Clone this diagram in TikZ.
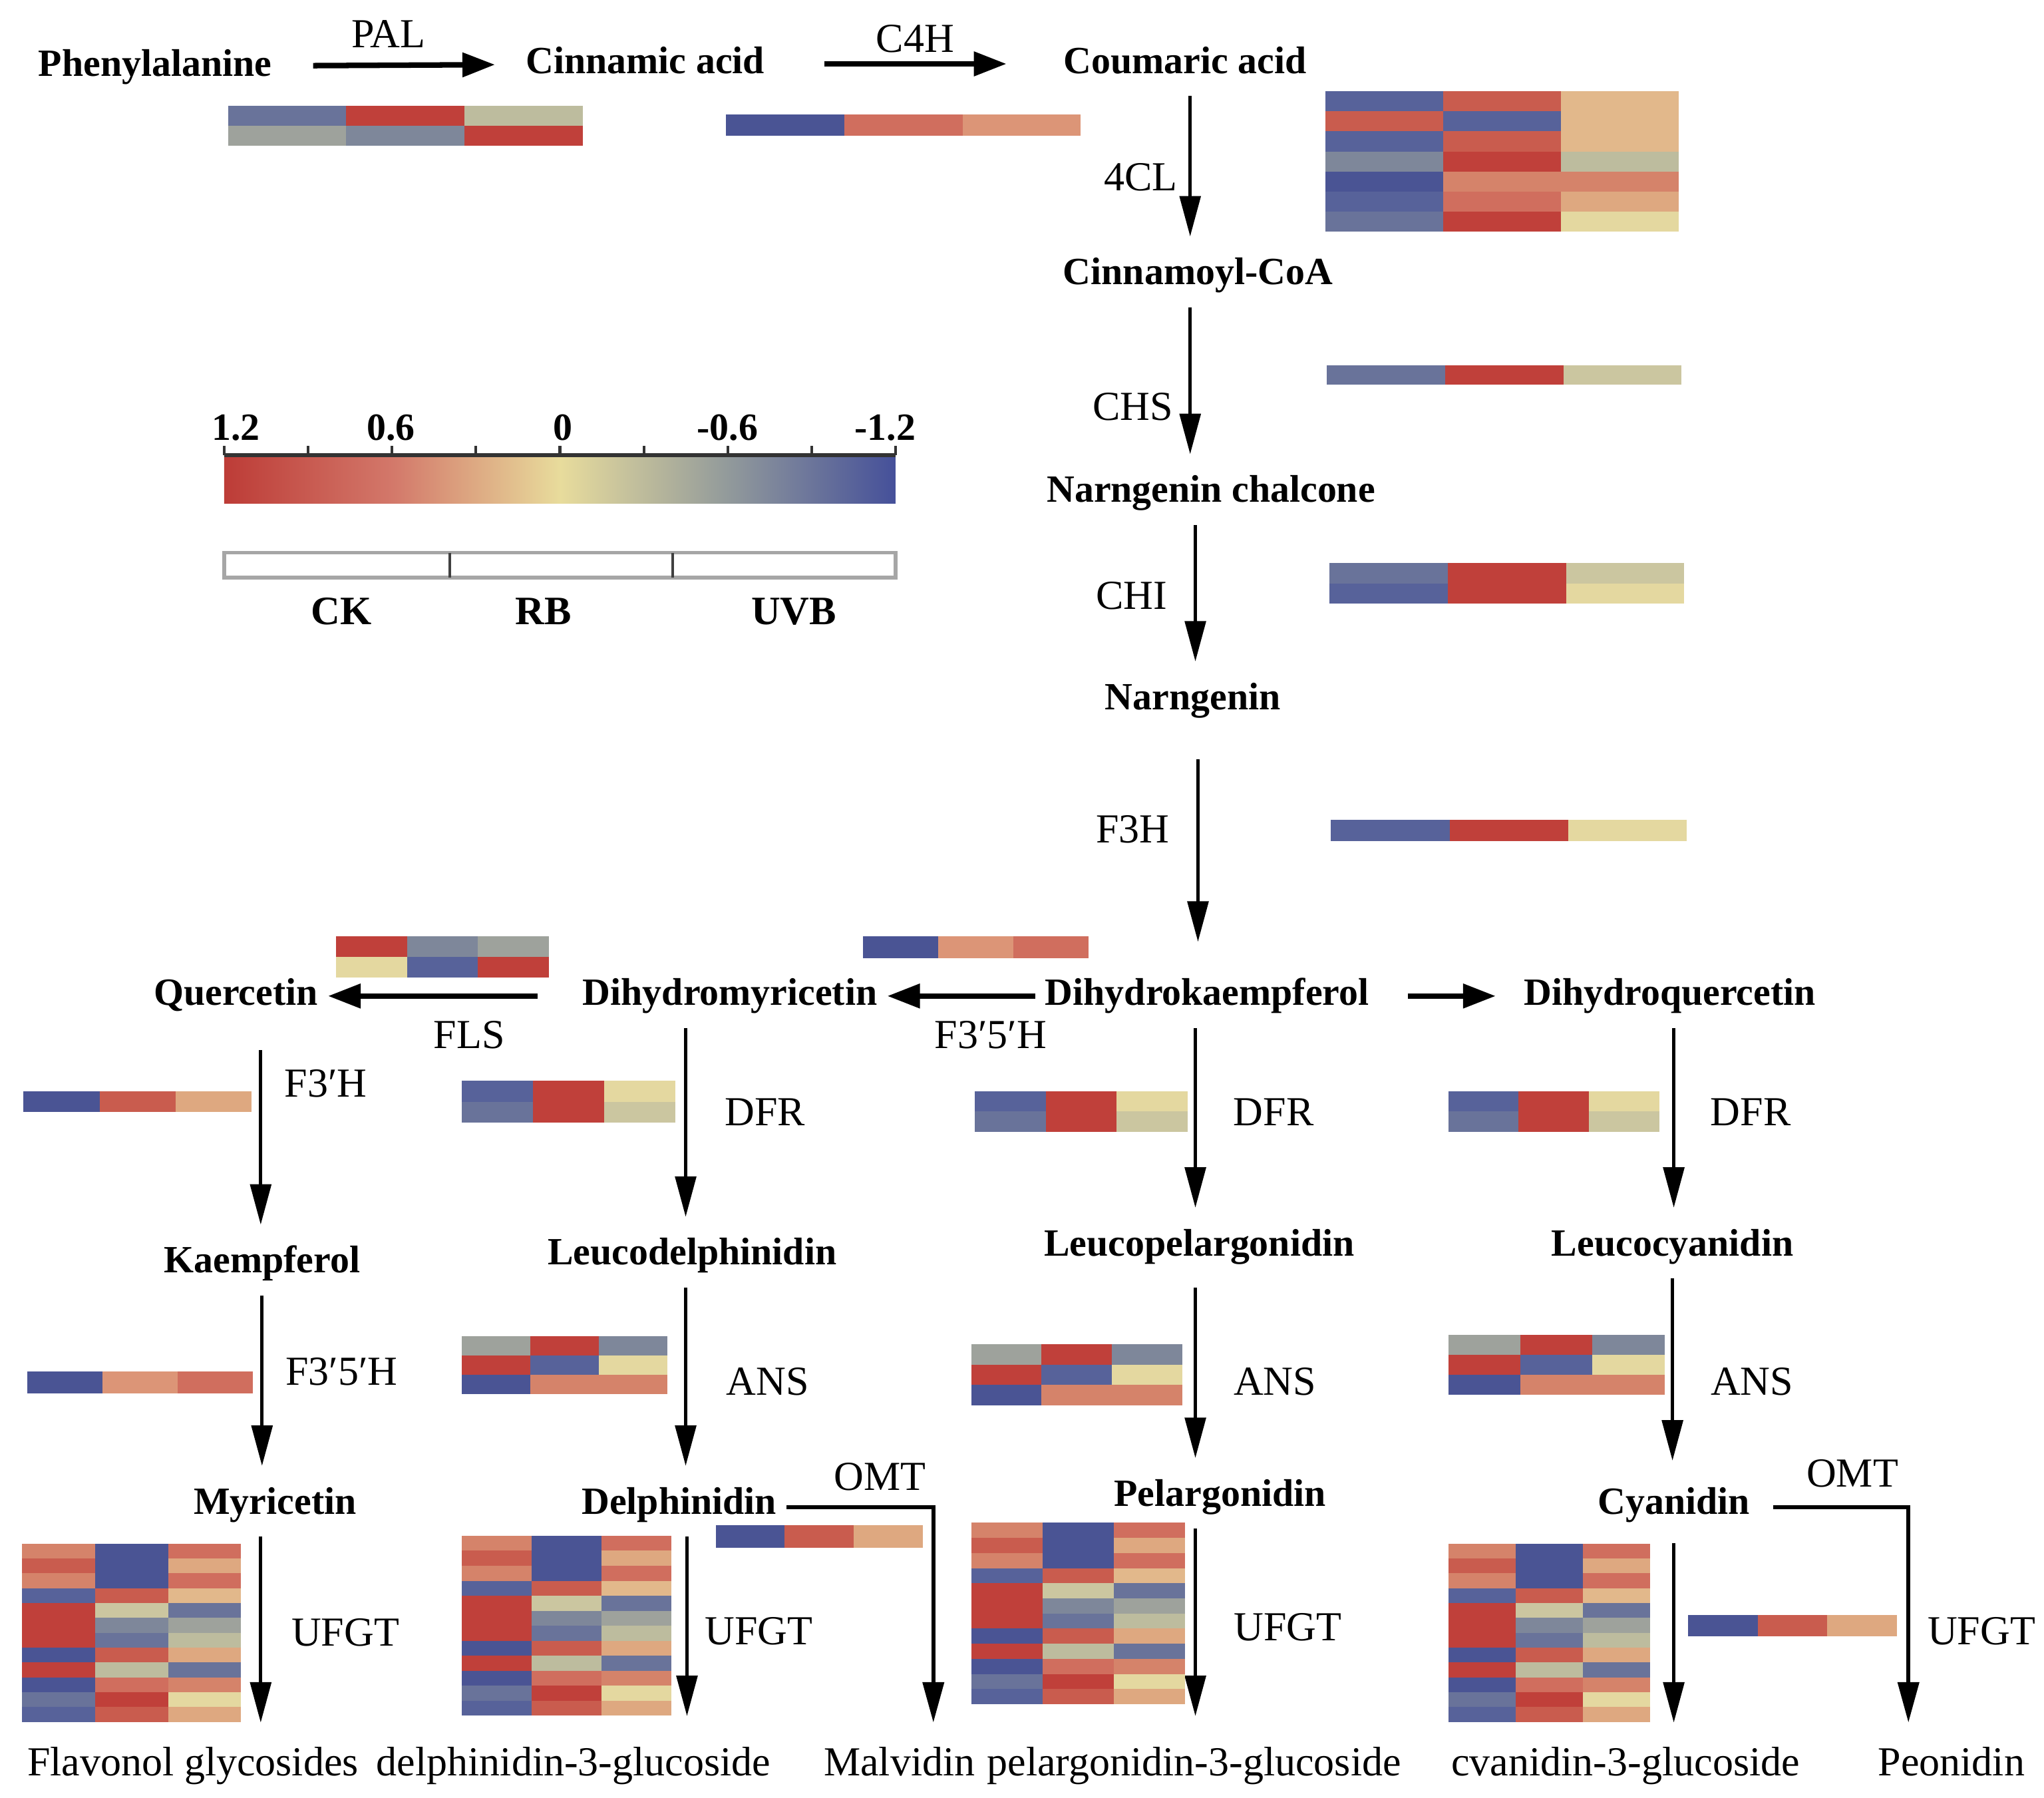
\documentclass[tikz,border=0pt]{standalone}
\usepackage{fontspec}
\setmainfont{Liberation Serif}
\usetikzlibrary{arrows.meta}

% heat map colours, low (blue) to high (red)
\definecolor{hb1}{HTML}{4A5494}
\definecolor{hb2}{HTML}{57629A}
\definecolor{hb3}{HTML}{69739A}
\definecolor{hb4}{HTML}{7E879A}
\definecolor{hg}{HTML}{9EA29C}
\definecolor{hk}{HTML}{BDBC9E}
\definecolor{hk2}{HTML}{CBC6A0}
\definecolor{hy}{HTML}{E4D8A0}
\definecolor{ht2}{HTML}{E2B88B}
\definecolor{ht}{HTML}{DEA880}
\definecolor{hs2}{HTML}{DC9577}
\definecolor{hs}{HTML}{D5836A}
\definecolor{hr3}{HTML}{D06E5E}
\definecolor{hr2}{HTML}{C95C4E}
\definecolor{hr}{HTML}{C0403A}
% legend bar
\definecolor{lgRed}{HTML}{BD3C37}
\definecolor{lgSal}{HTML}{D3786A}
\definecolor{lgYel}{HTML}{E8DC9C}
\definecolor{lgGry}{HTML}{929A9B}
\definecolor{lgBlu}{HTML}{45509A}

% rows of the repeated maps
\newcommand{\dfrrows}{hb2/hr/hy, hb3/hr/hk2}
\newcommand{\ansrows}{hg/hr/hb4, hr/hb2/hy, hb1/hs/hs}
\newcommand{\ufgtrows}{hs/hb1/hr3, hr2/hb1/ht, hs/hb1/hr3, hb2/hr2/ht2,
	hr/hk2/hb3, hr/hb4/hg, hr/hb3/hk, hb1/hr2/ht,
	hr/hk/hb3, hb1/hr3/hs, hb3/hr/hy, hb2/hr2/ht}

% left, top, width, row height, rows (three cells each)
\newcommand{\hmap}[5]{%
	\edef\hmaprows{#5}%
	\foreach \ka/\kb/\kc [count=\rw from 0] in \hmaprows {
		\fill[\ka] ({#1}, {#2+\rw*#4}) rectangle ++({#3/3}, {#4});
		\fill[\kb] ({#1+#3/3}, {#2+\rw*#4}) rectangle ++({#3/3}, {#4});
		\fill[\kc] ({#1+2*#3/3}, {#2+\rw*#4}) rectangle ++({#3/3}, {#4});
	}}

\begin{document}
\begin{tikzpicture}[x=0.01cm, y=-0.01cm,
	cpd/.style={font=\fontsize{8.4pt}{10pt}\selectfont\bfseries,
		inner sep=2pt, text height=6pt, text depth=1.9pt},
	prod/.style={font=\fontsize{9pt}{11pt}\selectfont,
		inner sep=2pt, text height=6.5pt, text depth=2pt},
	enz/.style={font=\fontsize{9pt}{11pt}\selectfont, inner sep=1pt},
	legnum/.style={font=\fontsize{8.4pt}{10pt}\selectfont\bfseries, inner sep=1pt},
	vflow/.style={-{Triangle[length=0.31cm, width=0.16cm]}, line width=0.7pt,
		shorten <=0.03cm, shorten >=0.08cm},
	hflow/.style={-{Triangle[length=0.25cm, width=0.18cm]}, line width=1.2pt},
	omt/.style={vflow, line width=0.9pt, shorten <=0.1cm, shorten >=0.1cm},
]
	\useasboundingbox (0,0) rectangle (1568,1379);

	% compounds
	\node[cpd] (phe) at (119,51) {Phenylalanine};
	\node[cpd] (cin) at (495,49) {Cinnamic acid};
	\node[cpd] (cou) at (909,49) {Coumaric acid};
	\node[cpd] (cyc) at (919,211) {Cinnamoyl-CoA};
	\node[cpd] (chal) at (929,378) {Narngenin chalcone};
	\node[cpd] (nar) at (915,537) {Narngenin};
	\node[cpd] (quer) at (181,764) {Quercetin};
	\node[cpd] (dhm) at (560,764) {Dihydromyricetin};
	\node[cpd] (dhk) at (926,764) {Dihydrokaempferol};
	\node[cpd] (dhq) at (1281,764) {Dihydroquercetin};
	\node[cpd] (kae) at (201,969) {Kaempferol};
	\node[cpd] (ldel) at (531,963) {Leucodelphinidin};
	\node[cpd] (lpel) at (920,956) {Leucopelargonidin};
	\node[cpd] (lcy) at (1283,956) {Leucocyanidin};
	\node[cpd] (myr) at (211,1154) {Myricetin};
	\node[cpd] (delp) at (521,1154) {Delphinidin};
	\node[cpd] (pel) at (936,1148) {Pelargonidin};
	\node[cpd] (cyan) at (1284,1154) {Cyanidin};

	\node[prod] (flav) at (148,1354) {Flavonol glycosides};
	\node[prod] (d3g) at (440,1354) {delphinidin-3-glucoside};
	\node[prod] (malv) at (690,1354) {Malvidin};
	\node[prod] (p3g) at (916,1354) {pelargonidin-3-glucoside};
	\node[prod] (c3g) at (1247,1354) {cvanidin-3-glucoside};
	\node[prod] (peo) at (1497,1354) {Peonidin};

	% horizontal steps
	\draw[hflow, shorten <=0.24cm, shorten >=0.16cm] (phe) -- (cin);
	\draw[hflow, shorten <=0.38cm, shorten >=0.36cm] (cin) -- (cou);
	\draw[hflow, shorten <=0.27cm] (dhm) -- (quer);
	\draw[hflow] (dhk) -- (dhm);
	\draw[hflow, shorten <=0.22cm, shorten >=0.14cm] (dhk) -- (dhq);

	% vertical steps
	\draw[vflow] (cou.south -| 913,0) -- (cyc.north -| 913,0);
	\draw[vflow] (cyc.south -| 913,0) -- (chal.north -| 913,0);
	\draw[vflow] (chal.south -| 917,0) -- (nar.north -| 917,0);
	\draw[vflow, shorten <=0.24cm, shorten >=0.2cm] (nar.south -| 919,0) -- (dhk.north -| 919,0);

	\draw[vflow, shorten <=0.2cm] (quer.south -| 200,0) -- (kae.north -| 200,0);
	\draw[vflow] (kae.south -| 201,0) -- (myr.north -| 201,0);
	\draw[vflow, shorten >=0.1cm] (myr.south -| 200,0) -- (flav.north -| 200,0);

	\draw[vflow] (dhm.south -| 526,0) -- (ldel.north -| 526,0);
	\draw[vflow] (ldel.south -| 526,0) -- (delp.north -| 526,0);
	\draw[vflow, shorten >=0.15cm] (delp.south -| 527,0) -- (d3g.north -| 527,0);

	\draw[vflow] (dhk.south -| 917,0) -- (lpel.north -| 917,0);
	\draw[vflow, shorten <=0.1cm] (lpel.south -| 917,0) -- (pel.north -| 917,0);
	\draw[vflow, shorten >=0.15cm] (pel.south -| 917,0) -- (p3g.north -| 917,0);

	\draw[vflow] (dhq.south -| 1284,0) -- (lcy.north -| 1284,0);
	\draw[vflow, shorten >=0.12cm] (lcy.south -| 1283,0) -- (cyan.north -| 1283,0);
	\draw[vflow, shorten <=0.08cm, shorten >=0.1cm] (cyan.south -| 1284,0) -- (c3g.north -| 1284,0);

	% OMT side branches
	\coordinate (omtA) at (716,1156);
	\coordinate (omtB) at (1464,1156);
	\draw[omt, shorten <=0cm] (delp.east |- omtA) -- (omtA) -- (malv.north -| omtA);
	\draw[omt] (cyan.east |- omtB) -- (omtB) -- (peo.north -| omtB);

	% enzymes
	\node[enz] (pal) at (298,26) {PAL};
	\node[enz] (c4h) at (702,30) {C4H};
	\node[enz] (fcl) at (875,136) {4CL};
	\node[enz] (chs) at (869,312) {CHS};
	\node[enz] (chi) at (868,457) {CHI};
	\node[enz] (fth) at (869,636) {F3H};
	\node[enz] (fls) at (360,794) {FLS};
	\node[enz] (ffa) at (760,794) {F3′5′H};
	\node[enz] (fpa) at (250,831) {F3′H};
	\node[enz] (ffb) at (262,1052) {F3′5′H};
	\node[enz] (dfra) at (587,853) {DFR};
	\node[enz] (dfrb) at (977,853) {DFR};
	\node[enz] (dfrc) at (1343,853) {DFR};
	\node[enz] (ansa) at (589,1060) {ANS};
	\node[enz] (ansb) at (978,1060) {ANS};
	\node[enz] (ansc) at (1344,1060) {ANS};
	\node[enz] (omta) at (675,1133) {OMT};
	\node[enz] (omtb) at (1421,1130) {OMT};
	\node[enz] (ufa) at (265,1252) {UFGT};
	\node[enz] (ufb) at (582,1251) {UFGT};
	\node[enz] (ufc) at (988,1248) {UFGT};
	\node[enz] (ufd) at (1520,1251) {UFGT};

	% expression maps
	\hmap{175}{81}{272}{15.5}{hb3/hr/hk, hg/hb4/hr}
	\hmap{557}{88}{272}{16}{hb1/hr3/hs2}
	\hmap{1017}{70}{271}{15.4}{hb2/hr2/ht2, hr2/hb2/ht2, hb2/hr2/ht2, hb4/hr/hk,
		hb1/hs/hs, hb2/hr3/ht, hb3/hr/hy}
	\hmap{1018}{280}{272}{15}{hb3/hr/hk2}
	\hmap{1020}{432}{272}{15.5}{hb3/hr/hk2, hb2/hr/hy}
	\hmap{1021}{629}{273}{16}{hb2/hr/hy}
	\hmap{258}{718}{163}{16}{hr/hb4/hg, hy/hb2/hr}
	\hmap{662}{718}{173}{17}{hb1/hs2/hr3}
	\hmap{18}{837}{175}{16}{hb1/hr2/ht}
	\hmap{21}{1052}{173}{17}{hb1/hs2/hr3}
	\hmap{354}{829}{164}{16}{\dfrrows}
	\hmap{748}{837}{163}{15.5}{\dfrrows}
	\hmap{1111}{837}{162}{15.5}{\dfrrows}
	\hmap{354}{1025}{158}{14.7}{\ansrows}
	\hmap{745}{1031}{162}{15.7}{\ansrows}
	\hmap{1111}{1024}{166}{15.3}{\ansrows}
	\hmap{17}{1184}{168}{11.4}{\ufgtrows}
	\hmap{354}{1178}{161}{11.5}{\ufgtrows}
	\hmap{745}{1168}{164}{11.6}{\ufgtrows}
	\hmap{1111}{1184}{155}{11.4}{\ufgtrows}
	\hmap{549}{1170}{159}{17}{hb1/hr2/ht}
	\hmap{1295}{1239}{160}{16}{hb1/hr2/ht}

	% colour key
	\shade[left color=lgRed, right color=lgYel, middle color=lgSal]
		(172,349) rectangle (430,386);
	\shade[left color=lgYel, right color=lgBlu, middle color=lgGry]
		(429.5,349) rectangle (687,386);
	\draw[line width=0.9pt, black!80] (172,349) -- (687,349);
	\foreach \i in {0,...,8}
		\draw[line width=0.6pt, black!80] ({172+\i*64.375},349) -- ++(0,-7);
	\foreach \v/\px [count=\i] in {1.2/181, 0.6/300, 0/432, -0.6/558, -1.2/679}
		\node[legnum] (num\i) at (\px,328) {\v};

	\draw[black!35, line width=0.8pt] (172,424) rectangle (687,443);
	\draw[black!75, line width=0.6pt] (345,424) -- (345,443) (516,424) -- (516,443);
	\node[legnum, font=\fontsize{8.8pt}{10pt}\selectfont\bfseries] (ck) at (262,469) {CK};
	\node[legnum, font=\fontsize{8.8pt}{10pt}\selectfont\bfseries] (rb) at (417,469) {RB};
	\node[legnum, font=\fontsize{8.8pt}{10pt}\selectfont\bfseries] (uvb) at (609,469) {UVB};

\end{tikzpicture}
\end{document}
